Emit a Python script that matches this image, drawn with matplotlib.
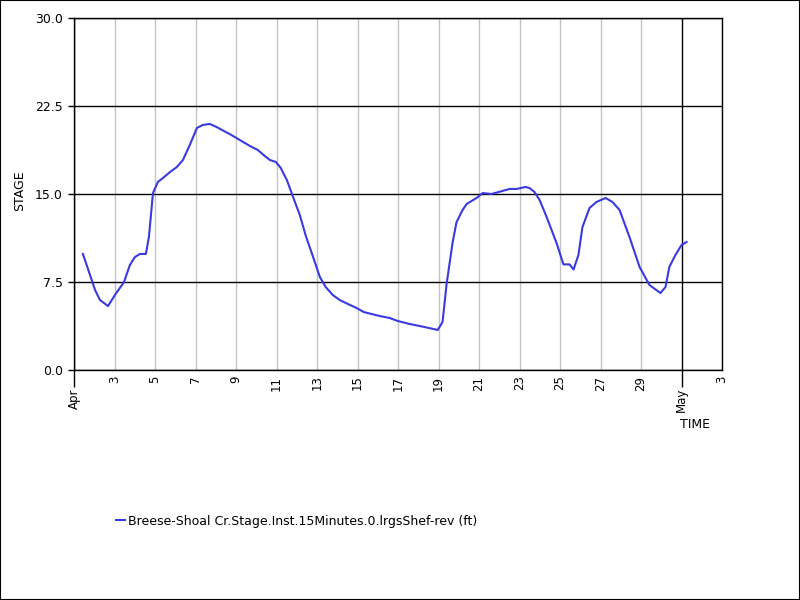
import datetime as dt
import matplotlib
matplotlib.use("Agg")
import matplotlib.pyplot as plt
import matplotlib.dates as mdates
from matplotlib.patches import Rectangle

# stage readings, day given as fractional day of April (31 = May 1)
days = [1.44, 2.04, 2.28, 2.68, 3.02, 3.47, 3.76, 4.01, 4.26, 4.55, 4.70, 4.90,
        5.14, 5.39, 5.74, 6.08, 6.38, 6.72, 7.07, 7.36, 7.71, 8.05, 8.40, 8.70,
        9.19, 9.68, 10.08, 10.42, 10.67, 10.97, 11.21, 11.51, 11.80, 12.15, 12.45,
        12.79, 13.14, 13.43, 13.78, 14.12, 14.52, 14.96, 15.31, 15.70, 16.10,
        16.59, 16.98, 17.58, 18.32, 18.96, 19.20, 19.40, 19.70, 19.89, 20.19,
        20.39, 20.88, 21.18, 21.62, 22.16, 22.51, 22.86, 23.30, 23.50, 23.74,
        23.99, 24.34, 24.83, 25.17, 25.47, 25.67, 25.91, 26.11, 26.46, 26.80,
        27.25, 27.59, 27.94, 28.43, 28.93, 29.42, 29.96, 30.21, 30.40, 30.70,
        31.00, 31.25]
stage = [9.89, 6.82, 5.97, 5.45, 6.39, 7.5, 8.95, 9.63, 9.89, 9.89, 11.34, 15.08,
         16.02, 16.36, 16.87, 17.3, 17.9, 19.18, 20.63, 20.88, 20.97, 20.7, 20.37, 20.1,
         19.6, 19.1, 18.75, 18.24, 17.9, 17.73, 17.22, 16.2, 14.83, 13.21, 11.42,
         9.72, 7.93, 7.07, 6.39, 5.97, 5.63, 5.28, 4.94, 4.77, 4.6,
         4.43, 4.18, 3.92, 3.66, 3.41, 4.09, 7.33, 10.9, 12.6, 13.64,
         14.15, 14.66, 15.08, 15.0, 15.26, 15.43, 15.43, 15.6, 15.5, 15.17,
         14.5, 13.04, 10.82, 9.0, 9.0, 8.57, 9.8, 12.19, 13.81, 14.32,
         14.66, 14.32, 13.64, 11.34, 8.78, 7.24, 6.56, 7.07, 8.78, 9.8,
         10.65, 10.91]
series_name = "Breese-Shoal Cr.Stage.Inst.15Minutes.0.lrgsShef-rev (ft)"

start = dt.datetime(2020, 4, 1)
times = [start + dt.timedelta(days=d - 1) for d in days]

fig = plt.figure(figsize=(8, 6), dpi=100)
ax = fig.add_axes([74 / 800, 230 / 600, 648 / 800, 352 / 600])

ax.plot(times, stage, color="#3a3ae0", lw=1.5, label=series_name)

ax.set_xlim(start, dt.datetime(2020, 5, 3))
ax.set_ylim(0, 30)
ax.set_yticks([0, 7.5, 15, 22.5, 30])
ax.yaxis.set_major_formatter(plt.FuncFormatter(lambda v, p: f"{v:.1f}"))

ax.xaxis.set_major_locator(mdates.MonthLocator())
ax.xaxis.set_major_formatter(mdates.DateFormatter("%b"))
ax.xaxis.set_minor_locator(mdates.DayLocator(bymonthday=range(3, 31, 2)))
ax.xaxis.set_minor_formatter(plt.FuncFormatter(lambda v, p: str(mdates.num2date(v).day)))

ax.tick_params(axis="x", which="major", length=12, width=1, pad=1, labelsize=8.5,
               labelrotation=90)
ax.tick_params(axis="x", which="minor", length=0, pad=4, labelsize=8.5,
               labelrotation=90)
ax.tick_params(axis="y", length=4.5, width=1, labelsize=9)

ax.grid(True, which="minor", axis="x", color="#c4c4c4", lw=1)
ax.grid(True, which="major", axis="x", color="black", lw=1)
ax.grid(True, which="major", axis="y", color="black", lw=1)
for s in ax.spines.values():
    s.set_linewidth(1)

ax.set_ylabel("STAGE", fontsize=9)
ax.yaxis.set_label_coords(-0.074, 0.51)
fig.text(695 / 800, 1 - 424 / 600, "TIME", ha="center", va="center", fontsize=9)

fig.legend(loc="center left", bbox_to_anchor=(116 / 800, 1 - 521 / 600),
           frameon=False, handlelength=0.7, handletextpad=0.25, borderpad=0,
           borderaxespad=0, fontsize=9)

fig.patches.append(Rectangle((0, 0), 1, 1, transform=fig.transFigure, fill=False,
                             edgecolor="black", lw=1.5))

fig.savefig("out.png", dpi=100)
